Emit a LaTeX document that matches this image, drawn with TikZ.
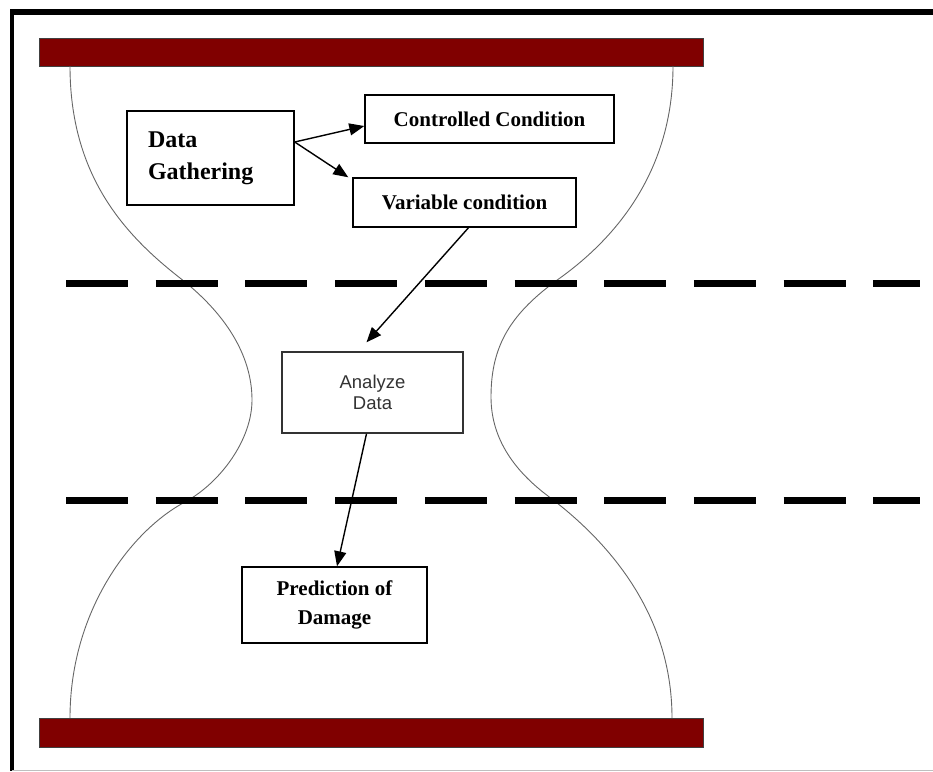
\documentclass[tikz,border=0pt]{standalone}
\usepackage{fontspec}
\setmainfont{Liberation Serif}
\newfontfamily\arialfont{Liberation Sans}
\usetikzlibrary{arrows.meta,positioning}
\definecolor{barred}{HTML}{800000}

\begin{document}
\begin{tikzpicture}[x=1pt, y=-1pt,
                    TXT/.style={rectangle, draw=black, fill=white, line width=1.4pt, inner sep=0pt, align=center, font=\bfseries\fontsize{21}{29}\selectfont},
                    SANS/.style={rectangle, draw=black!80, fill=white, line width=1.4pt, inner sep=0pt, align=center, text=black!80, font=\arialfont\fontsize{18.5}{21}\selectfont},
                    BAR/.style={draw=black!75, fill=barred, line width=0.8pt},
                    GLASS/.style={draw=black!60, line width=0.9pt},
                    ZONE/.style={line width=7pt, dash pattern=on 62pt off 27.7pt},
                    FLOW/.style={-{Triangle[length=15pt, width=12pt]}, line width=1.4pt},
                ]
                \useasboundingbox (0,0) rectangle (933,771);

                % frame
                \draw[line width=6pt] (10,12) -- (933,12);
                \draw[line width=4pt] (12,9) -- (12,771);
                \draw[black!25, line width=1pt] (12,770) -- (933,770);

                \draw[BAR] (39,38) rectangle (703,66);
                \draw[BAR] (39,718) rectangle (703,747);

                % hourglass walls
                \draw[GLASS] (70,66) .. controls (70,176) and (125,235) .. (180,278)
                             .. controls (225,313) and (252,355) .. (252,400)
                             .. controls (252,440) and (220,483) .. (185,502)
                             .. controls (132,530) and (70,610) .. (70,718);
                \draw[GLASS] (673,66) .. controls (673,170) and (617,237) .. (560,278)
                             .. controls (511,313) and (491,345) .. (491,397)
                             .. controls (491,440) and (516,472) .. (548,496)
                             .. controls (604,538) and (672,610) .. (672,718);

                \draw[ZONE] (66,283) -- (920,283);
                \draw[ZONE] (66,500) -- (920,500);

                \node[TXT, minimum width=167pt, minimum height=94pt, text width=125pt, align=left, font=\bfseries\fontsize{24}{32}\selectfont]
                      (DataGath) at (210.5,158) {Data\\Gathering};
                \node[TXT, minimum width=249pt, minimum height=48pt] (CtrlCond) at (489.5,119) {Controlled Condition};
                \node[TXT, minimum width=223pt, minimum height=49pt] (VarCond)  at (464.5,202.5) {Variable condition};
                \node[SANS, minimum width=181pt, minimum height=81pt] (AnaData) at (372.5,392.5) {Analyze\\Data};
                \node[TXT, minimum width=185pt, minimum height=76pt] (PredDmg)  at (334.5,605) {Prediction of\\Damage};

                \draw[FLOW] ([yshift=16pt]DataGath.east) -- ([yshift=-7pt]CtrlCond.west);
                \draw[FLOW] ([yshift=16pt]DataGath.east) -- ([xshift=-4pt]VarCond.north west);
                \draw[FLOW] ([xshift=4pt]VarCond.south) -- ([xshift=-6pt,yshift=9pt]AnaData.north);
                \draw[FLOW] ([xshift=-6pt]AnaData.south) -- ([xshift=2.5pt]PredDmg.north);

\end{tikzpicture}
\end{document}
